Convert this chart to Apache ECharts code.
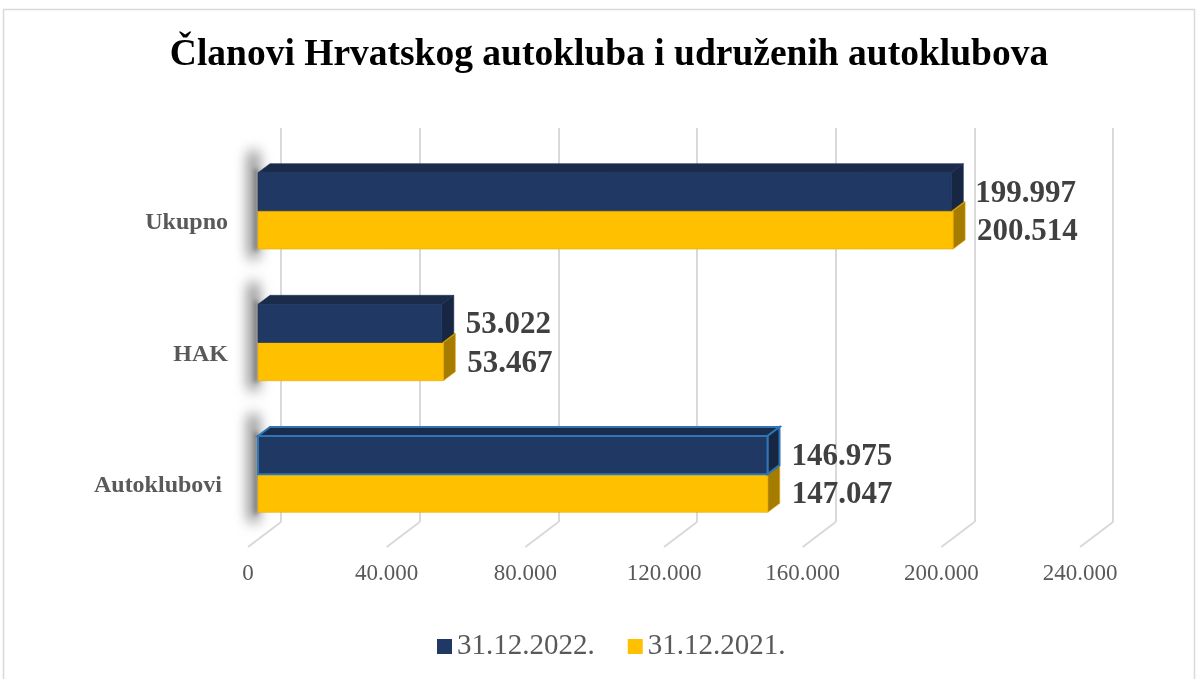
<!DOCTYPE html>
<html>
<head>
<meta charset="utf-8">
<script src="https://cdn.jsdelivr.net/npm/echarts@6/dist/echarts.min.js"></script>
<style>
html,body{margin:0;padding:0;background:#fff;}
#chart{width:1198px;height:679px;}
</style>
</head>
<body>
<div id="chart"></div>
<script>
// ---- data ----
const titleText = 'Članovi Hrvatskog autokluba i udruženih autoklubova';
const categories = ['Autoklubovi ', 'HAK', 'Ukupno'];
const seriesNames = ['31.12.2022.', '31.12.2021.'];
const values2022 = [146975, 53022, 199997];
const values2021 = [147047, 53467, 200514];
const tickValues = [0, 40000, 80000, 120000, 160000, 200000, 240000];

// ---- helpers ----
const SERIF = '"Liberation Serif","Times New Roman",serif';
function fmt(v) {
  return String(v).replace(/\B(?=(\d{3})+(?!\d))/g, '.');
}
const DX = 12, DY = -9;
const FAR = 3000;

function makeBarRenderer(colors, upper, highlightIndex) {
  return function (params, api) {
    const val = api.value(0);
    const cat = api.value(1);
    const s = api.coord([0, cat]);
    const e = api.coord([val, cat]);
    const band = api.size([0, 1])[1];
    const h = band * 0.29;
    const y0 = upper ? s[1] - h : s[1];
    const x0 = s[0], x1 = e[0];
    const hl = params.dataIndex === highlightIndex;
    const stroke = hl ? {stroke: '#2e75b6', lineWidth: 2} : {stroke: colors.edge, lineWidth: 0.6};
    return {
      type: 'group',
      children: [
        {type: 'polygon', shape: {points: [[x0, y0], [x0 + DX, y0 + DY], [x1 + DX, y0 + DY], [x1, y0]]},
          style: Object.assign({fill: colors.top}, stroke)},
        {type: 'polygon', shape: {points: [[x1, y0], [x1 + DX, y0 + DY], [x1 + DX, y0 + DY + h], [x1, y0 + h]]},
          style: Object.assign({fill: colors.side}, stroke)},
        {type: 'rect', shape: {x: x0, y: y0, width: x1 - x0, height: h},
          style: Object.assign({fill: colors.front}, stroke)},
        {type: 'text', x: x1 + 24, y: y0 + h / 2 + 2,
          style: {text: fmt(val), font: 'bold 31px ' + SERIF, fill: '#404040',
            textAlign: 'left', textVerticalAlign: 'middle'}}
      ]
    };
  };
}

// soft drop shadow at the left end of each bar pair (shape drawn off-canvas, only its shadow is visible)
function shadowRenderer(params, api) {
  const cat = api.value(1);
  const s = api.coord([0, cat]);
  const band = api.size([0, 1])[1];
  const h = band * 0.29;
  return {
    type: 'group',
    children: [
      {type: 'rect',
        shape: {x: s[0] - 9 - FAR, y: s[1] - h - 22, width: 9, height: 2 * h + 32, r: 4},
        style: {fill: '#000', shadowColor: 'rgba(0,0,0,0.6)', shadowBlur: 14, shadowOffsetX: FAR}},
      {type: 'rect',
        shape: {x: s[0] - 4 - FAR, y: s[1] - h - 4, width: 4, height: 2 * h + 6},
        style: {fill: '#000', shadowColor: 'rgba(0,0,0,0.35)', shadowBlur: 4, shadowOffsetX: FAR}}
    ]
  };
}

function floorRenderer(params, api) {
  const p = api.coord([api.value(0), 0]);
  return {
    type: 'line',
    shape: {x1: p[0], y1: p[1], x2: p[0] - 33, y2: p[1] + 25},
    style: {stroke: '#d9d9d9', lineWidth: 2}
  };
}

const chart = echarts.init(document.getElementById('chart'), null, {renderer: 'canvas'});
chart.setOption({
  backgroundColor: '#fff',
  animation: false,
  title: {
    text: titleText, left: 604, top: 31, textAlign: 'center',
    textStyle: {fontFamily: SERIF, fontWeight: 'bold', fontSize: 37.5, color: '#000'}
  },
  graphic: [{
    type: 'rect', z: -10, silent: true,
    shape: {x: 3.5, y: 9.5, width: 1191, height: 690},
    style: {fill: null, stroke: '#d9d9d9', lineWidth: 1.5}
  }],
  legend: {
    left: 437, top: 632, padding: 0, icon: 'rect', itemWidth: 15, itemHeight: 15, itemGap: 33,
    data: seriesNames,
    textStyle: {fontFamily: SERIF, fontSize: 29, color: '#595959'}
  },
  grid: [
    {left: 258, right: 108, top: 145, bottom: 139},   // bar plane
    {left: 281, right: 85, top: 128, bottom: 157},    // back wall
    {left: 248, right: 118, top: 150, bottom: 132}    // front floor edge (labels)
  ],
  xAxis: [
    {gridIndex: 0, type: 'value', min: 0, max: 240000, interval: 40000,
      axisLabel: {show: false}, axisLine: {show: false}, axisTick: {show: false}, splitLine: {show: false}},
    {gridIndex: 1, type: 'value', min: 0, max: 240000, interval: 40000,
      axisLabel: {show: false}, axisLine: {show: false}, axisTick: {show: false},
      splitLine: {show: true, lineStyle: {color: '#d9d9d9', width: 2}}},
    {gridIndex: 2, type: 'value', min: 0, max: 240000, interval: 40000,
      axisLine: {show: false}, axisTick: {show: false}, splitLine: {show: false},
      axisLabel: {margin: 15, fontFamily: SERIF, fontSize: 23, color: '#595959', formatter: fmt}}
  ],
  yAxis: [
    {gridIndex: 0, type: 'category', data: categories,
      axisLine: {show: false}, axisTick: {show: false}, splitLine: {show: false},
      axisLabel: {margin: 30, fontFamily: SERIF, fontWeight: 'bold', fontSize: 24, color: '#595959',
        verticalAlign: 'top'}},
    {gridIndex: 1, type: 'value', min: 0, max: 1, show: false, splitLine: {show: false}},
    {gridIndex: 2, type: 'value', min: 0, max: 1, show: false, splitLine: {show: false}}
  ],
  series: [
    {type: 'custom', name: 'floor', xAxisIndex: 1, yAxisIndex: 1, silent: true, z: 1,
      data: tickValues.map(v => [v, 0]), renderItem: floorRenderer, encode: {x: 0, y: 1}},
    {type: 'custom', name: 'shadow', xAxisIndex: 0, yAxisIndex: 0, silent: true, z: 2, clip: false,
      data: categories.map((c, i) => [0, i]), renderItem: shadowRenderer, encode: {x: 0, y: 1}},
    {type: 'custom', name: seriesNames[1], xAxisIndex: 0, yAxisIndex: 0, z: 3,
      itemStyle: {color: '#ffc000'},
      data: values2021.map((v, i) => [v, i]), encode: {x: 0, y: 1},
      renderItem: makeBarRenderer({front: '#ffc000', top: '#e0a800', side: '#a67c00', edge: '#e6a800'}, false, -1)},
    {type: 'custom', name: seriesNames[0], xAxisIndex: 0, yAxisIndex: 0, z: 4,
      itemStyle: {color: '#203864'},
      data: values2022.map((v, i) => [v, i]), encode: {x: 0, y: 1},
      renderItem: makeBarRenderer({front: '#203864', top: '#1a2b4c', side: '#172642', edge: '#1d3158'}, true, 0)}
  ]
});
</script>
</body>
</html>
